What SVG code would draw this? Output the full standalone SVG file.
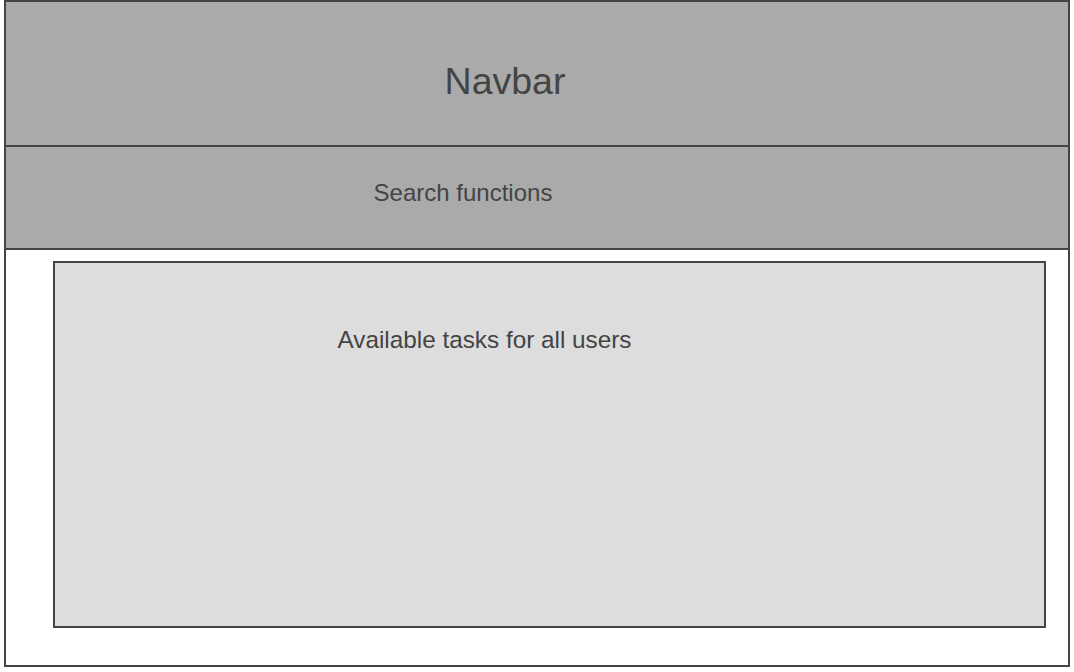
<svg xmlns="http://www.w3.org/2000/svg" width="1074" height="672" viewBox="0 0 1074 672">
<style>
.b{stroke:#444;stroke-width:2}
.t{font-family:"Liberation Sans",Arial,sans-serif;fill:#444}
</style>
<rect width="1074" height="672" fill="#fff"/>
<g id="page"><rect class="b" x="5" y="1" width="1064" height="665" fill="#fff"/></g>
<g id="navbar"><rect class="b" x="5" y="1" width="1064" height="145" fill="#aaa"/>
<text class="t" x="505" y="94" font-size="37.5" text-anchor="middle">Navbar</text></g>
<g id="search"><rect class="b" x="5" y="146" width="1064" height="103" fill="#aaa"/>
<text class="t" x="463" y="201" font-size="24" text-anchor="middle">Search functions</text></g>
<g id="tasks"><rect class="b" x="54" y="262" width="991" height="365" fill="#ddd"/>
<text class="t" x="484.5" y="348" font-size="24.3" text-anchor="middle">Available tasks for all users</text></g>
<g id="connectors"/>
</svg>
